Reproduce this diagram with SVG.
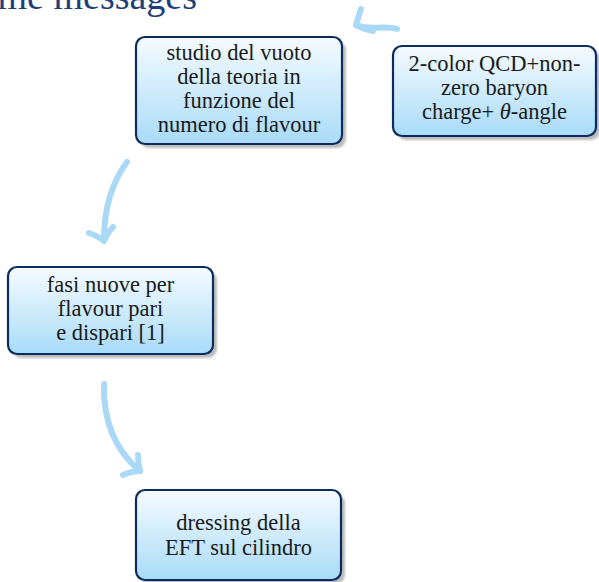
<svg xmlns="http://www.w3.org/2000/svg" width="599" height="582" viewBox="0 0 599 582">
<defs>
<linearGradient id="g" x1="0" y1="0" x2="0" y2="1">
<stop offset="0" stop-color="#f6fbff"/>
<stop offset="1" stop-color="#a8dbf8"/>
</linearGradient>
<filter id="blur" x="-10%" y="-10%" width="120%" height="120%"><feGaussianBlur stdDeviation="1"/></filter>
<style>
.box{fill:url(#g);stroke:#0c2c5e;stroke-width:2.2}
.sh{fill:#bcbcbc;filter:url(#blur)}
.t{font-family:"Liberation Serif","DejaVu Serif",serif;font-size:22.5px;fill:#1a1a1a;text-anchor:middle}
.title{font-family:"Liberation Serif","DejaVu Serif",serif;font-size:38px;fill:#1f3f7c;text-anchor:end}
.c{fill:none;stroke:#a9d9f6;stroke-width:6;stroke-linecap:round;stroke-linejoin:round}
</style>
</defs>
<text class="title" x="197" y="9">Take-home messages</text>
<g id="connectors">
<path class="c" d="M397,29 C385,25 370,31 356,25"/>
<path class="c" d="M361,9 Q358,18 356,25 Q365,30 373,31"/>
<path class="c" d="M127,162 C110,185 104,210 104,240"/>
<path class="c" d="M89,233 Q98,236 104,241 Q107,233 113,227"/>
<path class="c" d="M104,384 C103,420 115,450 140,471"/>
<path class="c" d="M123,475 Q132,471 140,471 Q138,463 138,455"/>
</g>
<g id="n1">
<rect class="sh" x="140" y="41" width="206" height="107" rx="9"/>
<rect class="box" x="136" y="37" width="206" height="107" rx="9"/>
<text class="t" x="239" y="60">studio del vuoto</text>
<text class="t" x="239" y="84">della teoria in</text>
<text class="t" x="239" y="108">funzione del</text>
<text class="t" x="239" y="132">numero di flavour</text>
</g>
<g id="n2">
<rect class="sh" x="397" y="50" width="203" height="90" rx="9"/>
<rect class="box" x="393" y="46" width="203" height="90" rx="9"/>
<text class="t" x="494.5" y="71">2-color QCD+non-</text>
<text class="t" x="494.5" y="95">zero baryon</text>
<text class="t" x="494.5" y="119">charge+ <tspan font-style="italic">θ</tspan>-angle</text>
</g>
<g id="n3">
<rect class="sh" x="12" y="271" width="205" height="87" rx="9"/>
<rect class="box" x="8" y="267" width="205" height="87" rx="9"/>
<text class="t" x="110.5" y="292">fasi nuove per</text>
<text class="t" x="110.5" y="316">flavour pari</text>
<text class="t" x="110.5" y="340">e dispari [1]</text>
</g>
<g id="n4">
<rect class="sh" x="140" y="494" width="205" height="90" rx="9"/>
<rect class="box" x="136" y="490" width="205" height="90" rx="9"/>
<text class="t" x="238.5" y="530">dressing della</text>
<text class="t" x="238.5" y="555">EFT sul cilindro</text>
</g>
</svg>
